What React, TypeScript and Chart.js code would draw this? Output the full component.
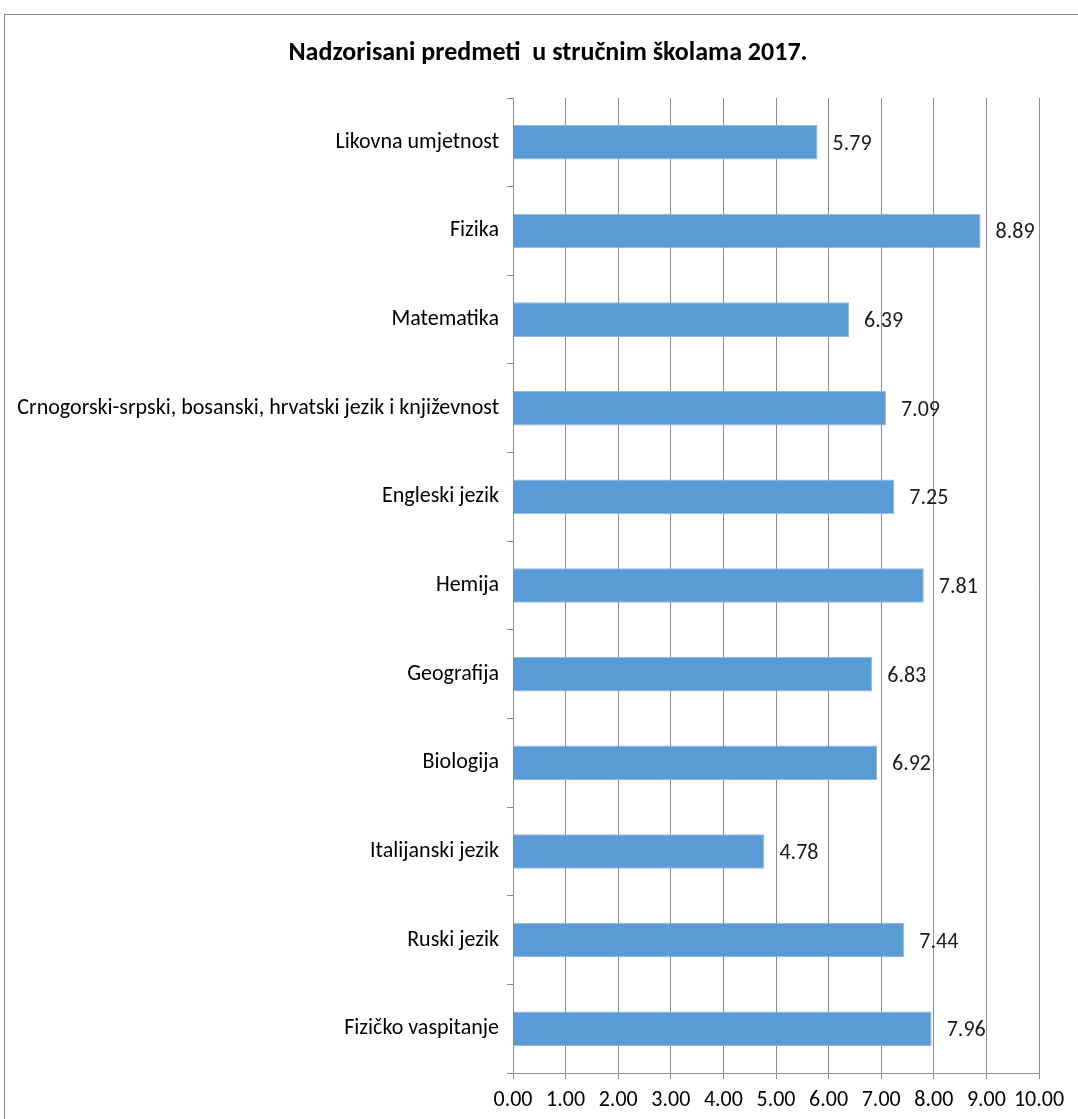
import React, { useEffect, useRef } from "react";
import { Chart, registerables } from "chart.js";

Chart.register(...registerables);

const TITLE = "Nadzorisani predmeti  u stručnim školama 2017.";
const CATEGORIES = [
  "Likovna umjetnost",
  "Fizika",
  "Matematika",
  "Crnogorski-srpski, bosanski, hrvatski jezik i književnost",
  "Engleski jezik",
  "Hemija",
  "Geografija",
  "Biologija",
  "Italijanski jezik",
  "Ruski jezik",
  "Fizičko vaspitanje",
];
const VALUES = [5.79, 8.89, 6.39, 7.09, 7.25, 7.81, 6.83, 6.92, 4.78, 7.44, 7.96];
const X_MIN = 0;
const X_MAX = 10;
const X_STEP = 1;

const FONT = "Carlito, 'Open Sans', 'Liberation Sans', sans-serif";
const CANVAS_W = 1074;
const CANVAS_H = 1105;

export default function App() {
  const ref = useRef<HTMLCanvasElement | null>(null);

  useEffect(() => {
    if (!ref.current) return;
    const labelPlugin = {
      id: "valueLabels",
      afterDatasetsDraw(chart: any) {
        const ctx = chart.ctx;
        const meta = chart.getDatasetMeta(0);
        ctx.save();
        ctx.font = `22px ${FONT}`;
        ctx.fillStyle = "#1a1a1a";
        ctx.textAlign = "left";
        ctx.textBaseline = "middle";
        meta.data.forEach((bar: any, i: number) => {
          ctx.fillText(VALUES[i].toFixed(2), bar.x + 15, bar.y + 2);
        });
        ctx.restore();
      },
    };
    const titlePlugin = {
      id: "customTitle",
      afterDraw(chart: any) {
        const ctx = chart.ctx;
        ctx.save();
        ctx.font = `bold 26px ${FONT}`;
        ctx.fillStyle = "#000";
        ctx.textAlign = "center";
        ctx.textBaseline = "middle";
        ctx.fillText(TITLE, 543, 38);
        ctx.restore();
      },
    };
    const chart = new Chart(ref.current, {
      type: "bar",
      data: {
        labels: CATEGORIES,
        datasets: [
          {
            data: VALUES,
            backgroundColor: "#5B9BD5",
            borderColor: "#8DB8E3",
            borderWidth: 1,
            barPercentage: 0.39,
            categoryPercentage: 1,
          },
        ],
      },
      options: {
        indexAxis: "y",
        animation: false,
        responsive: false,
        maintainAspectRatio: false,
        layout: { padding: { top: 83, right: 40, bottom: 0, left: 0 } },
        plugins: {
          legend: { display: false },
          title: { display: false },
          tooltip: { enabled: false },
        },
        scales: {
          x: {
            type: "linear",
            min: X_MIN,
            max: X_MAX,
            ticks: {
              stepSize: X_STEP,
              autoSkip: false,
              callback: (v: any) => Number(v).toFixed(2),
              color: "#000",
              font: { family: FONT, size: 22 },
              padding: 8,
              maxRotation: 0,
              minRotation: 0,
            },
            grid: {
              color: "#8c8c8c",
              lineWidth: 1,
              tickLength: 6,
              drawTicks: true,
            },
            border: { display: true, color: "#8c8c8c" },
            afterFit: (s: any) => {
              s.height = 47;
            },
          },
          y: {
            type: "category",
            ticks: {
              color: "#000",
              font: { family: FONT, size: 22 },
              padding: 8,
              autoSkip: false,
            },
            grid: {
              offset: true,
              drawOnChartArea: false,
              drawTicks: true,
              tickLength: 6,
              color: "#8c8c8c",
            },
            border: { display: true, color: "#8c8c8c" },
            afterFit: (s: any) => {
              s.width = 508;
            },
          },
        },
      },
      plugins: [labelPlugin, titlePlugin],
    });
    return () => chart.destroy();
  }, []);

  return (
    <div
      style={{
        position: "absolute",
        left: 4,
        top: 14,
        width: CANVAS_W + 20,
        height: CANVAS_H + 20,
        border: "1px solid #8a8a8a",
        background: "#fff",
      }}
    >
      <canvas
        ref={ref}
        width={CANVAS_W}
        height={CANVAS_H}
        style={{ display: "block", width: CANVAS_W, height: CANVAS_H }}
      />
    </div>
  );
}
